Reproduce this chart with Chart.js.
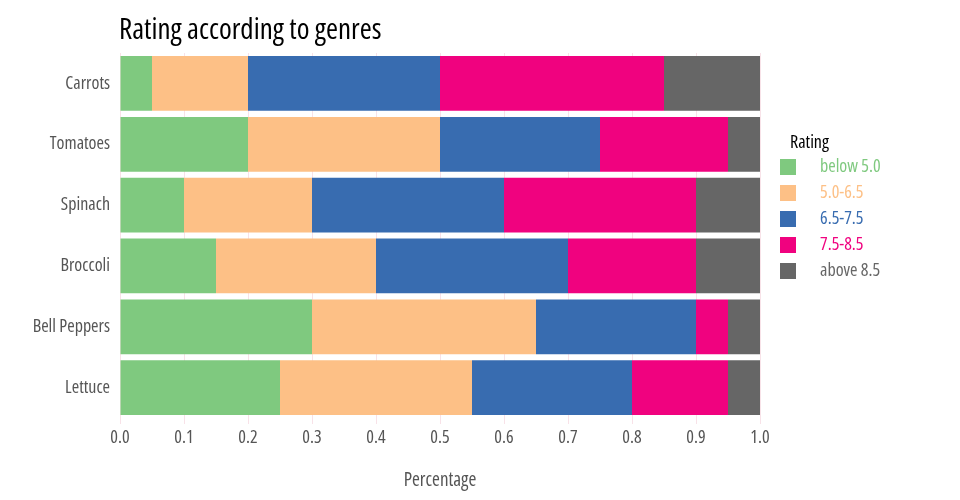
<!DOCTYPE html>
<html lang="en">
<head>
  <meta charset="UTF-8" />
  <title>Rating according to genres</title>
  <style>
    html,body{margin:0;padding:0;background:#fff}
    #wrap{width:960px;height:500px}
  </style>
  <script src="https://cdn.jsdelivr.net/npm/chart.js"></script>
</head>
<body>
<div id="wrap"><canvas id="c"></canvas></div>
<script>
const categories=['Carrots','Tomatoes','Spinach','Broccoli','Bell Peppers','Lettuce'];
const ratingLabels=['below 5.0','5.0-6.5','6.5-7.5','7.5-8.5','above 8.5'];
const colors=['#7fc97f','#fdc086','#386cb0','#f0027f','#666666'];
const below50=[0.05,0.20,0.10,0.15,0.30,0.25];
const r50to65=[0.15,0.30,0.20,0.25,0.35,0.30];
const r65to75=[0.30,0.25,0.30,0.30,0.25,0.25];
const r75to85=[0.35,0.20,0.30,0.20,0.05,0.15];
const above85=[0.15,0.05,0.10,0.10,0.05,0.05];
const xTicks=[0,0.1,0.2,0.3,0.4,0.5,0.6,0.7,0.8,0.9,1.0];

const FAM='"Open Sans", sans-serif';
const series=[below50,r50to65,r65to75,r75to85,above85];
// Chart.js rejects non-standard font styles, so the stretch keyword rides in "weight"
const cond=size=>({family:FAM,weight:'condensed',size:size});

// title + legend drawn by hand so they sit where the reference has them
const decor={
  id:'decor',
  afterDraw(chart){
    const ctx=chart.ctx;
    ctx.save();
    ctx.fillStyle='#000';
    ctx.font='condensed 29px '+FAM;
    ctx.textBaseline='middle';
    ctx.textAlign='left';
    ctx.fillText('Rating according to genres',chart.chartArea.left-1,31);
    ctx.font='condensed 18px '+FAM;
    ctx.fillText('Rating',790,143);
    chart.data.datasets.forEach((ds,i)=>{
      const y=167+i*26;
      ctx.fillStyle=ds.backgroundColor;
      ctx.fillRect(780,y-8,16,16);
      ctx.fillText(ds.label,820,y);
    });
    ctx.restore();
  }
};

new Chart(document.getElementById('c'),{
  type:'bar',
  data:{
    labels:categories,
    datasets:series.map((d,i)=>({label:ratingLabels[i],data:d,backgroundColor:colors[i],borderWidth:0,barPercentage:0.9,categoryPercentage:1}))
  },
  options:{
    indexAxis:'y',
    responsive:true,
    maintainAspectRatio:false,
    animation:false,
    layout:{padding:{top:53,right:200,bottom:0,left:0}},
    plugins:{legend:{display:false},tooltip:{enabled:false}},
    scales:{
      x:{
        stacked:true,min:0,max:1,
        afterBuildTicks(s){s.ticks=xTicks.map(v=>({value:v}));},
        afterFit(s){s.height=82;},
        border:{display:false},
        grid:{color:'rgba(240,190,205,0.45)',lineWidth:1,tickLength:6},
        ticks:{color:'#555',font:cond(18),padding:3,callback:v=>v.toFixed(1)},
        title:{display:true,text:'Percentage',color:'#555',font:cond(19),padding:{top:18,bottom:8}}
      },
      y:{
        stacked:true,
        afterFit(s){s.width=120;},
        border:{display:false},
        grid:{display:false},
        ticks:{color:'#555',font:cond(18),padding:2}
      }
    }
  },
  plugins:[decor]
});
</script>
</body>
</html>
